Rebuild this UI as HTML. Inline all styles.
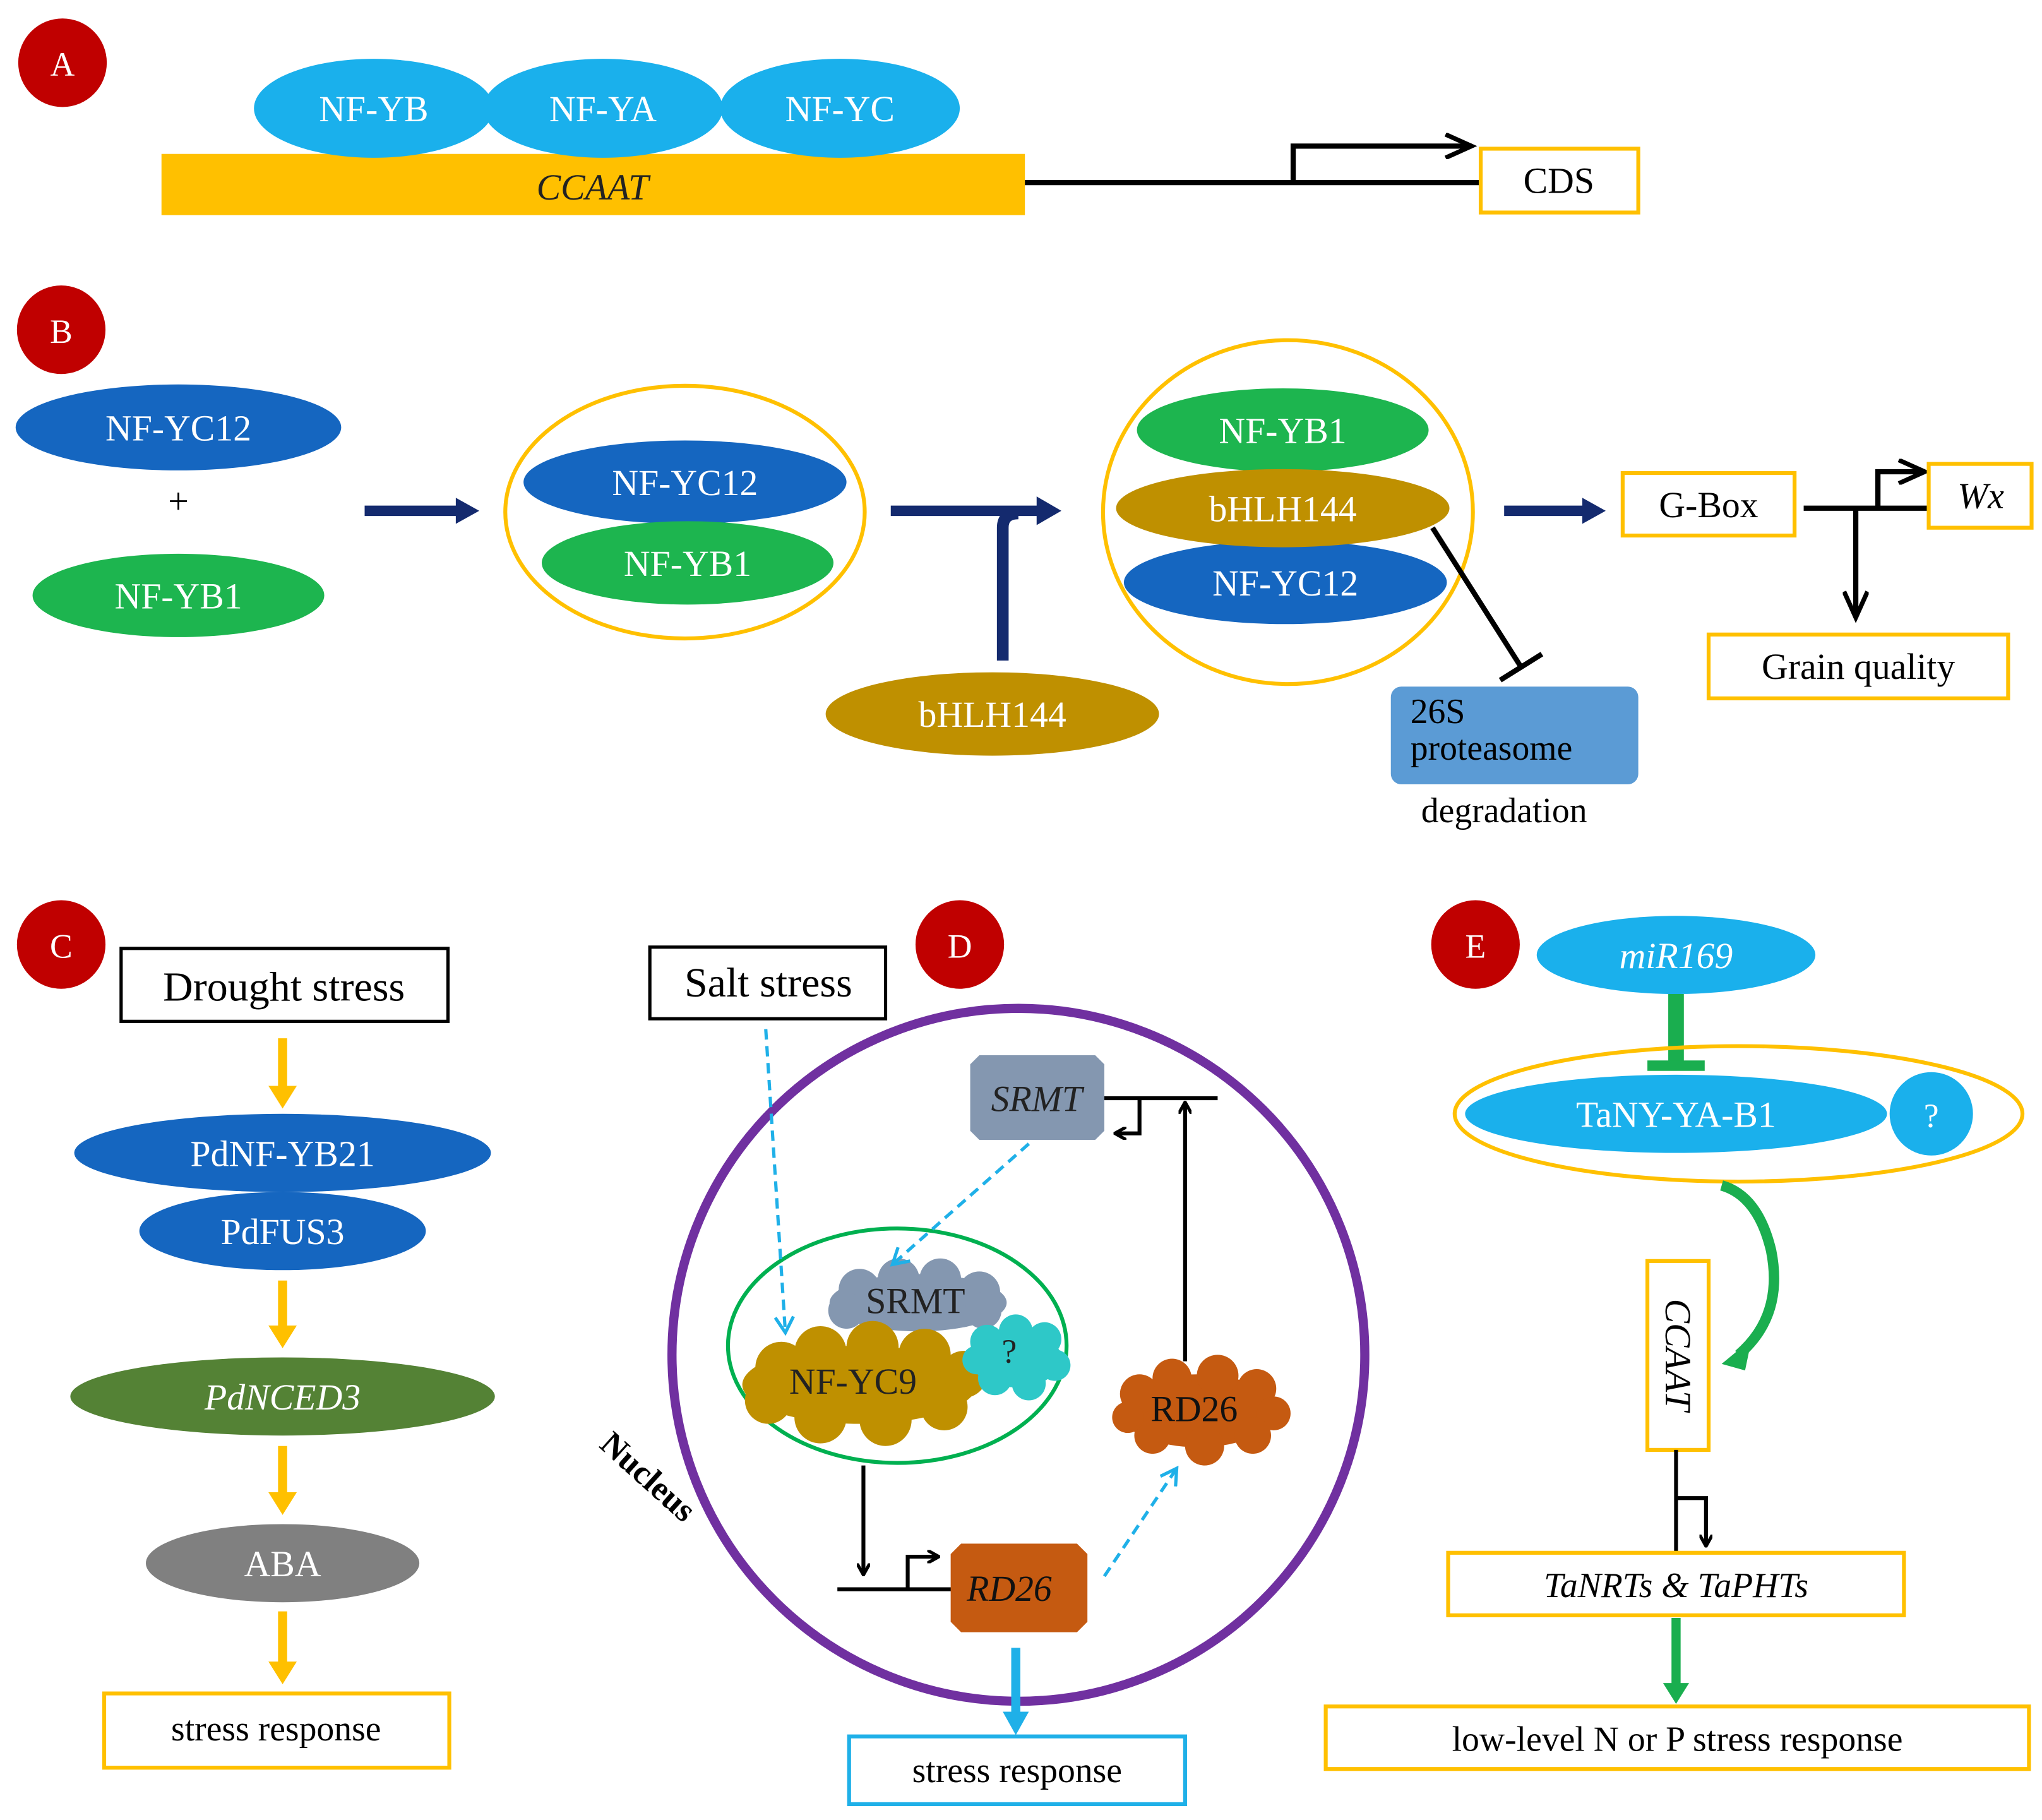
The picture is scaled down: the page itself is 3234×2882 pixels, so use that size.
<!DOCTYPE html>
<html><head><meta charset="utf-8"><style>html,body{margin:0;padding:0;background:#fff}svg{display:block}</style></head>
<body>
<svg xmlns="http://www.w3.org/2000/svg" width="3234" height="2882" viewBox="0 0 1568 1397" font-family="Liberation Serif, serif">
<defs>
<marker id="ab" markerWidth="10" markerHeight="10" refX="8" refY="5" orient="auto" markerUnits="userSpaceOnUse"><path d="M0,0 L9,5 L0,10" fill="none" stroke="#000" stroke-width="2.5"/></marker>
<marker id="abL" markerWidth="26" markerHeight="20" refX="22" refY="10" orient="auto" markerUnits="userSpaceOnUse"><path d="M2,1 L22,10 L2,19" fill="none" stroke="#000" stroke-width="3.5"/></marker>
<marker id="ablue" markerWidth="16" markerHeight="16" refX="12" refY="8" orient="auto" markerUnits="userSpaceOnUse"><path d="M1,1 L13,8 L1,15" fill="none" stroke="#1fb0e8" stroke-width="2.5"/></marker>
</defs>
<g font-size="28" text-anchor="middle">
<!-- A -->
<circle cx="48" cy="48" r="34" fill="#c00000"/><text x="48" y="58" fill="#fff" font-size="26">A</text>
<rect x="124" y="118" width="663" height="47" fill="#ffc000"/>
<text x="455" y="153" font-style="italic" fill="#222">CCAAT</text>
<ellipse cx="287" cy="83" rx="92" ry="38" fill="#1ab0ec"/><text x="287" y="93" fill="#fff">NF-YB</text>
<ellipse cx="463" cy="83" rx="92" ry="38" fill="#1ab0ec"/><text x="463" y="93" fill="#fff">NF-YA</text>
<ellipse cx="645" cy="83" rx="92" ry="38" fill="#1ab0ec"/><text x="645" y="93" fill="#fff">NF-YC</text>
<line x1="787" y1="140" x2="1137" y2="140" stroke="#000" stroke-width="4"/>
<path d="M993,140 V112 H1130" fill="none" stroke="#000" stroke-width="4" marker-end="url(#abL)"/>
<rect x="1137" y="114" width="121" height="49" fill="#fff" stroke="#ffc000" stroke-width="3"/><text x="1197" y="148">CDS</text>
<!-- B -->
<circle cx="47" cy="253" r="34" fill="#c00000"/><text x="47" y="263" fill="#fff" font-size="26">B</text>
<ellipse cx="137" cy="328" rx="125" ry="33" fill="#1566c0"/><text x="137" y="338" fill="#fff">NF-YC12</text>
<text x="137" y="394">+</text>
<ellipse cx="137" cy="457" rx="112" ry="32" fill="#1db54f"/><text x="137" y="467" fill="#fff">NF-YB1</text>
<line x1="280" y1="392" x2="352" y2="392" stroke="#142a6e" stroke-width="8"/><path d="M350,382 L368,392 L350,402Z" fill="#142a6e"/>
<ellipse cx="526" cy="393" rx="138" ry="97" fill="none" stroke="#ffc000" stroke-width="3"/>
<ellipse cx="526" cy="370" rx="124" ry="32" fill="#1566c0"/><text x="526" y="380" fill="#fff">NF-YC12</text>
<ellipse cx="528" cy="432" rx="112" ry="32" fill="#1db54f"/><text x="528" y="442" fill="#fff">NF-YB1</text>
<line x1="684" y1="392" x2="798" y2="392" stroke="#142a6e" stroke-width="8"/><path d="M796,381 L815,392 L796,403Z" fill="#142a6e"/>
<path d="M770,507 V405 Q770,394 782,394" fill="none" stroke="#142a6e" stroke-width="9"/>
<ellipse cx="762" cy="548" rx="128" ry="32" fill="#bf9000"/><text x="762" y="558" fill="#fff">bHLH144</text>
<ellipse cx="989" cy="393" rx="142" ry="132" fill="none" stroke="#ffc000" stroke-width="3"/>
<ellipse cx="985" cy="330" rx="112" ry="32" fill="#1db54f"/><text x="985" y="340" fill="#fff">NF-YB1</text>
<ellipse cx="987" cy="447" rx="124" ry="32" fill="#1566c0"/><text x="987" y="457" fill="#fff">NF-YC12</text>
<ellipse cx="985" cy="390" rx="128" ry="30" fill="#bf9000"/><text x="985" y="400" fill="#fff">bHLH144</text>
<line x1="1100" y1="405" x2="1168" y2="512" stroke="#000" stroke-width="4"/>
<line x1="1152" y1="522" x2="1184" y2="502" stroke="#000" stroke-width="4"/>
<rect x="1068" y="527" width="190" height="75" rx="8" fill="#5b9bd5"/>
<text x="1083" y="555" text-anchor="start" font-size="27">26S</text>
<text x="1083" y="583" text-anchor="start" font-size="27">proteasome</text>
<text x="1155" y="631" font-size="27">degradation</text>
<line x1="1155" y1="392" x2="1217" y2="392" stroke="#142a6e" stroke-width="8"/><path d="M1215,382 L1233,392 L1215,402Z" fill="#142a6e"/>
<rect x="1246" y="363" width="132" height="48" fill="#fff" stroke="#ffc000" stroke-width="3"/><text x="1312" y="397">G-Box</text>
<line x1="1385" y1="390" x2="1480" y2="390" stroke="#000" stroke-width="4"/>
<path d="M1442,390 V362 H1478" fill="none" stroke="#000" stroke-width="4" marker-end="url(#abL)"/>
<rect x="1481" y="356" width="79" height="49" fill="#fff" stroke="#ffc000" stroke-width="3"/><text x="1521" y="390" font-style="italic">Wx</text>
<line x1="1425" y1="390" x2="1425" y2="474" stroke="#000" stroke-width="4" marker-end="url(#abL)"/>
<rect x="1312" y="487" width="230" height="49" fill="#fff" stroke="#ffc000" stroke-width="3"/><text x="1427" y="521">Grain quality</text>
<!-- C -->
<circle cx="47" cy="725" r="34" fill="#c00000"/><text x="47" y="735" fill="#fff" font-size="26">C</text>
<rect x="93" y="728" width="251" height="56" fill="#fff" stroke="#000" stroke-width="2.5"/><text x="218" y="768" font-size="32">Drought stress</text>
<g fill="#ffc000" stroke="#ffc000">
<line x1="217" y1="797" x2="217" y2="838" stroke-width="7"/><path d="M207,834 L217,850 L227,834Z"/>
<line x1="217" y1="983" x2="217" y2="1022" stroke-width="7"/><path d="M207,1018 L217,1034 L227,1018Z"/>
<line x1="217" y1="1110" x2="217" y2="1150" stroke-width="7"/><path d="M207,1146 L217,1162 L227,1146Z"/>
<line x1="217" y1="1237" x2="217" y2="1280" stroke-width="7"/><path d="M207,1276 L217,1292 L227,1276Z"/>
</g>
<ellipse cx="217" cy="885" rx="160" ry="30" fill="#1566c0"/><text x="217" y="895" fill="#fff">PdNF-YB21</text>
<ellipse cx="217" cy="945" rx="110" ry="30" fill="#1566c0"/><text x="217" y="955" fill="#fff">PdFUS3</text>
<ellipse cx="217" cy="1072" rx="163" ry="30" fill="#548235"/><text x="217" y="1082" fill="#fff" font-style="italic">PdNCED3</text>
<ellipse cx="217" cy="1200" rx="105" ry="30" fill="#808080"/><text x="217" y="1210" fill="#fff">ABA</text>
<rect x="80" y="1300" width="265" height="57" fill="#fff" stroke="#ffc000" stroke-width="3"/><text x="212" y="1336" font-size="27">stress response</text>
<!-- D -->
<circle cx="737" cy="725" r="34" fill="#c00000"/><text x="737" y="735" fill="#fff" font-size="26">D</text>
<rect x="499" y="727" width="181" height="55" fill="#fff" stroke="#000" stroke-width="2.5"/><text x="590" y="765" font-size="32">Salt stress</text>
<circle cx="782" cy="1040" r="266" fill="none" stroke="#7030a0" stroke-width="7"/>
<text x="0" y="0" font-size="26" font-weight="bold" transform="translate(492,1140) rotate(42)">Nucleus</text>
<path d="M752,810 H841 L848,817 V868 L841,875 H752 L745,868 V817Z" fill="#8497b0"/>
<text x="796" y="853" font-style="italic" fill="#222">SRMT</text>
<line x1="848" y1="843" x2="935" y2="843" stroke="#000" stroke-width="3"/>
<path d="M875,843 V870 H857" fill="none" stroke="#000" stroke-width="3" marker-end="url(#ab)"/>
<line x1="910" y1="1045" x2="910" y2="847" stroke="#000" stroke-width="3" marker-end="url(#ab)"/>
<ellipse cx="689" cy="1033" rx="130" ry="90" fill="none" stroke="#00b050" stroke-width="3"/>
<g fill="#8497b0"><ellipse cx="705" cy="1000" rx="68" ry="22"/><circle cx="660" cy="990" r="16"/><circle cx="690" cy="982" r="16"/><circle cx="722" cy="982" r="16"/><circle cx="752" cy="992" r="16"/><circle cx="755" cy="1006" r="14"/><circle cx="650" cy="1006" r="14"/></g>
<text x="703" y="1008" fill="#222">SRMT</text>
<g fill="#bf9000"><ellipse cx="660" cy="1063" rx="90" ry="30"/><circle cx="600" cy="1050" r="20"/><circle cx="630" cy="1038" r="20"/><circle cx="670" cy="1034" r="20"/><circle cx="710" cy="1040" r="20"/><circle cx="740" cy="1055" r="18"/><circle cx="590" cy="1075" r="18"/><circle cx="630" cy="1088" r="20"/><circle cx="680" cy="1090" r="20"/><circle cx="725" cy="1080" r="18"/></g>
<text x="655" y="1070" fill="#222">NF-YC9</text>
<g fill="#2ec8c8"><ellipse cx="780" cy="1043" rx="35" ry="22"/><circle cx="758" cy="1030" r="13"/><circle cx="780" cy="1022" r="13"/><circle cx="802" cy="1028" r="13"/><circle cx="810" cy="1048" r="12"/><circle cx="790" cy="1062" r="13"/><circle cx="764" cy="1058" r="13"/><circle cx="750" cy="1044" r="11"/></g>
<text x="775" y="1046" fill="#222" font-size="26">?</text>
<line x1="588" y1="790" x2="603" y2="1022" stroke="#1fb0e8" stroke-width="2.5" stroke-dasharray="8,5" marker-end="url(#ablue)"/>
<line x1="790" y1="878" x2="686" y2="970" stroke="#1fb0e8" stroke-width="2.5" stroke-dasharray="8,5" marker-end="url(#ablue)"/>
<g fill="#c55a11"><ellipse cx="920" cy="1083" rx="60" ry="28"/><circle cx="875" cy="1070" r="15"/><circle cx="900" cy="1058" r="15"/><circle cx="935" cy="1056" r="16"/><circle cx="965" cy="1066" r="15"/><circle cx="978" cy="1085" r="13"/><circle cx="962" cy="1102" r="14"/><circle cx="925" cy="1110" r="15"/><circle cx="885" cy="1102" r="14"/><circle cx="866" cy="1088" r="12"/></g>
<text x="917" y="1091" fill="#111">RD26</text>
<line x1="663" y1="1125" x2="663" y2="1208" stroke="#000" stroke-width="3" marker-end="url(#ab)"/>
<line x1="643" y1="1220" x2="732" y2="1220" stroke="#000" stroke-width="3"/>
<path d="M697,1220 V1195 H720" fill="none" stroke="#000" stroke-width="3" marker-end="url(#ab)"/>
<path d="M738,1185 H827 L835,1193 V1245 L827,1253 H738 L730,1245 V1193Z" fill="#c55a11"/>
<text x="775" y="1229" font-style="italic" fill="#111">RD26</text>
<line x1="848" y1="1210" x2="903" y2="1128" stroke="#1fb0e8" stroke-width="2.5" stroke-dasharray="8,5" marker-end="url(#ablue)"/>
<line x1="780" y1="1265" x2="780" y2="1318" stroke="#1fb0e8" stroke-width="7"/><path d="M770,1314 L780,1332 L790,1314Z" fill="#1fb0e8"/>
<rect x="652" y="1333" width="258" height="52" fill="#fff" stroke="#1fb0e8" stroke-width="3"/><text x="781" y="1368" font-size="27">stress response</text>
<!-- E -->
<circle cx="1133" cy="725" r="34" fill="#c00000"/><text x="1133" y="735" fill="#fff" font-size="26">E</text>
<ellipse cx="1287" cy="733" rx="107" ry="30" fill="#1ab0ec"/><text x="1287" y="743" fill="#fff" font-style="italic">miR169</text>
<line x1="1287" y1="763" x2="1287" y2="815" stroke="#1aae4f" stroke-width="12"/>
<line x1="1265" y1="818" x2="1309" y2="818" stroke="#1aae4f" stroke-width="8"/>
<ellipse cx="1335" cy="855" rx="218" ry="52" fill="none" stroke="#ffc000" stroke-width="3"/>
<ellipse cx="1287" cy="855" rx="162" ry="30" fill="#1ab0ec"/><text x="1287" y="865" fill="#fff">TaNY-YA-B1</text>
<circle cx="1483" cy="855" r="32" fill="#1ab0ec"/><text x="1483" y="865" fill="#fff" font-size="26">?</text>
<path d="M1322,910 Q1350,918 1360,960 Q1370,1010 1335,1040" fill="none" stroke="#1aae4f" stroke-width="8"/>
<path d="M1322,1047 L1345,1028 L1340,1052Z" fill="#1aae4f"/>
<rect x="1265" y="968" width="47" height="145" fill="#fff" stroke="#ffc000" stroke-width="3"/>
<text x="0" y="0" font-style="italic" transform="translate(1279,1040) rotate(90)">CCAAT</text>
<line x1="1287" y1="1113" x2="1287" y2="1192" stroke="#000" stroke-width="3"/>
<path d="M1287,1150 H1310 V1186" fill="none" stroke="#000" stroke-width="3" marker-end="url(#ab)"/>
<rect x="1112" y="1192" width="350" height="48" fill="#fff" stroke="#ffc000" stroke-width="3"/><text x="1287" y="1226" font-style="italic" font-size="27">TaNRTs &amp; TaPHTs</text>
<line x1="1287" y1="1242" x2="1287" y2="1295" stroke="#1aae4f" stroke-width="7"/><path d="M1277,1292 L1287,1308 L1297,1292Z" fill="#1aae4f"/>
<rect x="1018" y="1310" width="540" height="48" fill="#fff" stroke="#ffc000" stroke-width="3"/><text x="1288" y="1344" font-size="27">low-level N or P stress response</text>
</g>
</svg>
</body></html>
